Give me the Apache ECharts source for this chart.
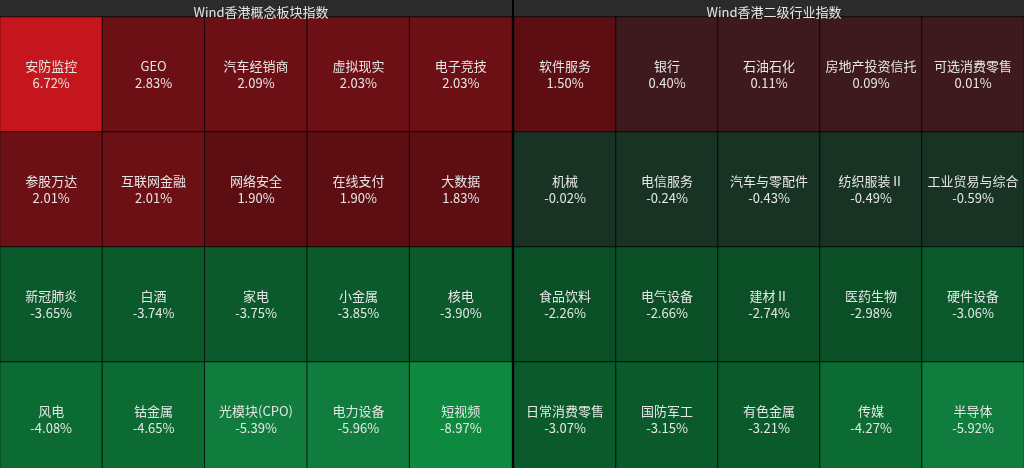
<!DOCTYPE html>
<html>
<head>
<meta charset="utf-8">
<script src="https://cdn.jsdelivr.net/npm/echarts@6/dist/echarts.min.js"></script>
<style>
  html, body { margin: 0; padding: 0; background: #2b2b2b; }
  #main { width: 1024px; height: 468px; }
</style>
</head>
<body>
<div id="main"></div>
<script>
var leftTitle = 'Wind香港概念板块指数';
var rightTitle = 'Wind香港二级行业指数';

var leftNames = ['安防监控', 'GEO', '汽车经销商', '虚拟现实', '电子竞技',
    '参股万达', '互联网金融', '网络安全', '在线支付', '大数据',
    '新冠肺炎', '白酒', '家电', '小金属', '核电',
    '风电', '钴金属', '光模块(CPO)', '电力设备', '短视频'];
var leftValues = [6.72, 2.83, 2.09, 2.03, 2.03,
    2.01, 2.01, 1.90, 1.90, 1.83,
    -3.65, -3.74, -3.75, -3.85, -3.90,
    -4.08, -4.65, -5.39, -5.96, -8.97];

var rightNames = ['软件服务', '银行', '石油石化', '房地产投资信托', '可选消费零售',
    '机械', '电信服务', '汽车与零配件', '纺织服装Ⅱ', '工业贸易与综合',
    '食品饮料', '电气设备', '建材Ⅱ', '医药生物', '硬件设备',
    '日常消费零售', '国防军工', '有色金属', '传媒', '半导体'];
var rightValues = [1.50, 0.40, 0.11, 0.09, 0.01,
    -0.02, -0.24, -0.43, -0.49, -0.59,
    -2.26, -2.66, -2.74, -2.98, -3.06,
    -3.07, -3.15, -3.21, -4.27, -5.92];

var cols = ['0', '1', '2', '3', '4'];
var rows = ['0', '1', '2', '3'];

function toCells(names, values) {
    var out = [];
    for (var i = 0; i < names.length; i++) {
        out.push({ name: names[i], value: [i % 5, Math.floor(i / 5), values[i]] });
    }
    return out;
}

function cellSeries(idx, names, values) {
    return {
        type: 'heatmap',
        xAxisIndex: idx,
        yAxisIndex: idx,
        data: toCells(names, values),
        itemStyle: { borderColor: 'rgba(0,0,0,0.75)', borderWidth: 1 },
        label: {
            show: true,
            color: '#e6e6e6',
            fontSize: 13,
            lineHeight: 17,
            fontFamily: 'Noto Sans CJK SC',
            formatter: function (p) {
                return p.name + '\n' + p.value[2].toFixed(2) + '%';
            }
        },
        emphasis: { disabled: true }
    };
}

var myChart = echarts.init(document.getElementById('main'));
var option = {
    backgroundColor: '#2b2b2b',
    animation: false,
    title: [{
        text: leftTitle, left: 256, top: 1, textAlign: 'center',
        textStyle: { color: '#e6e6e6', fontSize: 13, fontWeight: 'normal', fontFamily: 'Noto Sans CJK SC' }
    }, {
        text: rightTitle, left: 769, top: 1, textAlign: 'center',
        textStyle: { color: '#e6e6e6', fontSize: 13, fontWeight: 'normal', fontFamily: 'Noto Sans CJK SC' }
    }],
    // the bottom row runs past the window edge in the reference
    grid: [
        { left: 0, top: 17, width: 512, height: 460, outerBoundsMode: 'none' },
        { left: 514, top: 17, width: 510, height: 460, outerBoundsMode: 'none' }
    ],
    xAxis: [
        { type: 'category', data: cols, gridIndex: 0, show: false },
        { type: 'category', data: cols, gridIndex: 1, show: false }
    ],
    yAxis: [
        { type: 'category', data: rows, gridIndex: 0, inverse: true, show: false },
        { type: 'category', data: rows, gridIndex: 1, inverse: true, show: false }
    ],
    visualMap: {
        type: 'piecewise',
        show: false,
        dimension: 2,
        seriesIndex: [0, 1],
        pieces: [
            { gte: 5, color: '#c4161c' },
            { gte: 2, lt: 5, color: '#6d1016' },
            { gte: 1, lt: 2, color: '#5d0e13' },
            { gte: 0, lt: 1, color: '#3e1a1e' },
            { gte: -1, lt: 0, color: '#183324' },
            { gte: -3, lt: -1, color: '#0b4f27' },
            { gte: -4, lt: -3, color: '#0a5a2c' },
            { gte: -5, lt: -4, color: '#0c6a33' },
            { gte: -8, lt: -5, color: '#107c3d' },
            { lt: -8, color: '#0e8a40' }
        ]
    },
    graphic: [{
        type: 'rect',
        shape: { x: 512, y: 0, width: 2, height: 468 },
        style: { fill: '#000' },
        z: 100
    }],
    series: [
        cellSeries(0, leftNames, leftValues),
        cellSeries(1, rightNames, rightValues)
    ]
};
myChart.setOption(option);
</script>
</body>
</html>
